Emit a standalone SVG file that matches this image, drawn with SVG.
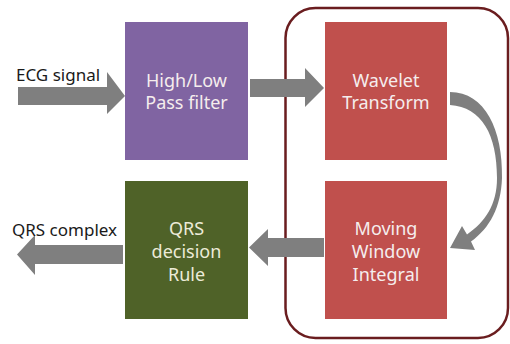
<svg xmlns="http://www.w3.org/2000/svg" width="510" height="344" viewBox="0 0 510 344">
  <style>
    .box-text { font-family: "Noto Sans", "Open Sans", sans-serif; font-size: 18px; fill: #f5eded; text-anchor: middle; }
    .side-text { font-family: "Noto Sans", "Open Sans", sans-serif; font-size: 17px; fill: #1a1a1a; }
    .arrow { fill: #7f7f7f; }
  </style>
  <rect width="510" height="344" fill="#ffffff"/>

  <!-- grouping frame around the transform stages -->
  <g id="stage-frame">
    <rect x="285.5" y="8" width="222.5" height="330" rx="30" ry="30" fill="none" stroke="#6a1d1f" stroke-width="2.5"/>
  </g>

  <g id="filter">
    <rect x="125" y="22" width="123" height="138" fill="#8064a2"/>
    <text class="box-text" x="186.5" y="87">High/Low</text>
    <text class="box-text" x="186.5" y="109">Pass filter</text>
  </g>

  <g id="wavelet">
    <rect x="325" y="22" width="122" height="138" fill="#c0504d"/>
    <text class="box-text" x="386" y="87">Wavelet</text>
    <text class="box-text" x="386" y="109">Transform</text>
  </g>

  <g id="mwi">
    <rect x="325" y="181" width="122" height="138" fill="#c0504d"/>
    <text class="box-text" x="386" y="235">Moving</text>
    <text class="box-text" x="386" y="258">Window</text>
    <text class="box-text" x="386" y="281">Integral</text>
  </g>

  <g id="decision">
    <rect x="125" y="181" width="123" height="138" fill="#4f6228"/>
    <text class="box-text" x="186.5" y="235" style="fill:#ecebd8">QRS</text>
    <text class="box-text" x="186.5" y="258" style="fill:#ecebd8">decision</text>
    <text class="box-text" x="186.5" y="281" style="fill:#ecebd8">Rule</text>
  </g>

  <g id="connectors">
    <!-- input -->
    <polygon class="arrow" points="18,87 107,87 107,72 125,96 107,114 107,105 18,105"/>
    <!-- filter to wavelet -->
    <polygon class="arrow" points="250,79 305,79 305,68 324,88 305,107 305,97 250,97"/>
    <!-- wavelet to moving window integral (curved) -->
    <path class="arrow" d="M450,92 C485,92 503,130 502,178 C501,207 490,228 471,241.5 L475,250 L450,248 L462,226 L467,234.5 C485,222 497,205 497,178 C497,135 482,107 450,105 Z"/>
    <!-- moving window integral to decision -->
    <polygon class="arrow" points="324,238 268,238 268,229 249,247.5 268,266 268,257 324,257"/>
    <!-- output -->
    <polygon class="arrow" points="123,245 35,245 35,235 17,254.5 35,275 35,264 123,264"/>
  </g>

  <text class="side-text" x="16" y="81">ECG signal</text>
  <text class="side-text" x="12" y="236">QRS complex</text>
</svg>
